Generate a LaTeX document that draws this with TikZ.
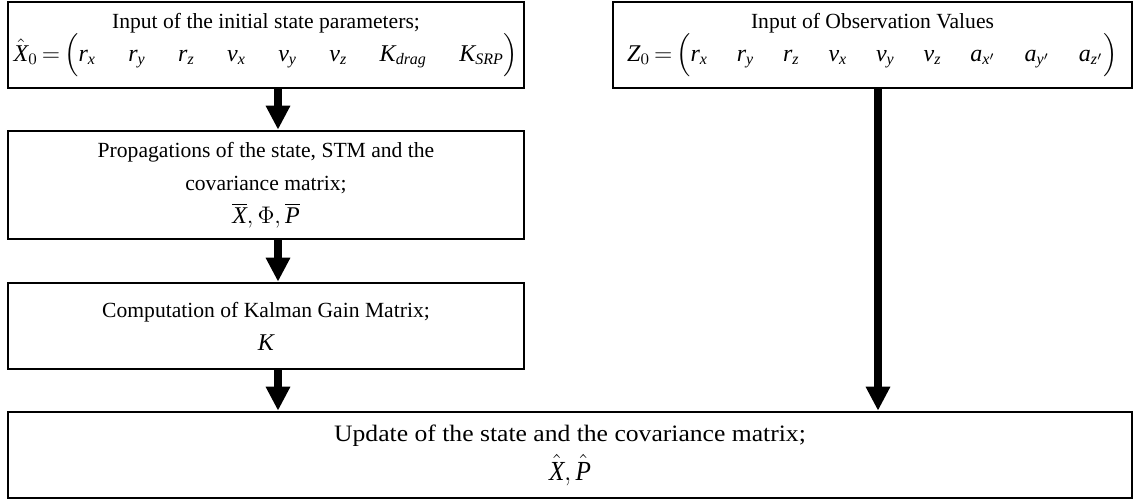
\documentclass[tikz,border=0pt]{standalone}
\usepackage{amsmath}
\usepackage{graphicx}
\usepackage{fontspec}
\setmainfont{Liberation Serif}
\usetikzlibrary{arrows.meta}
\newcommand\mi[1]{\mathit{#1}}
\newcommand\gap{\hspace{1.35em}}
\newcommand\zgap{\hspace{1.2em}}
\newcommand\mfont{\fontsize{12}{16.5}\selectfont}
\begin{document}
\begin{tikzpicture}[x=0.5pt,y=-0.5pt,
  box/.style={draw=black, line width=1.3pt, inner sep=0pt, align=center,
    font=\fontsize{10.8}{16.5}\selectfont},
  fat/.style={line width=4pt, -{Triangle[width=11.5pt,length=12pt]}}]
\useasboundingbox (0,0) rectangle (1135,502);
\node[box, minimum width=258pt, minimum height=43pt] (b1) at (266,45)
  {Input of the initial state parameters;\\
   {\mfont$\hat{\mi{X}}_0 \mskip-2mu=\mskip-2mu \Bigl(\mi{r}_{\mi{x}}\gap \mi{r}_{\mi{y}}\gap \mi{r}_{\mi{z}}\gap \mi{v}_{\mi{x}}\gap \mi{v}_{\mi{y}}\gap \mi{v}_{\mi{z}}\gap \mi{K}_{\mi{drag}}\gap \mi{K}_{\mi{SRP}}\Bigr)$}};
\node[box, minimum width=259.5pt, minimum height=43pt] (b2) at (872.5,45)
  {Input of Observation Values\\
   {\mfont$\mi{Z}_0 \mskip-2mu=\mskip-2mu \Bigl(\mi{r}_{\mi{x}}\zgap \mi{r}_{\mi{y}}\zgap \mi{r}_{\mi{z}}\zgap \mi{v}_{\mi{x}}\zgap \mi{v}_{\mi{y}}\zgap \mi{v}_{\mi{z}}\zgap \mi{a}_{\mi{x}'}\zgap \mi{a}_{\mi{y}'}\zgap \mi{a}_{\mi{z}'}\Bigr)$}};
\node[box, minimum width=258pt, minimum height=54pt] (b3) at (266,185)
  {Propagations of the state, STM and the\\ covariance matrix;\\
   {\mfont$\overline{\mi{X}}, \Phi, \overline{\mi{P}}$}};
\node[box, minimum width=258pt, minimum height=43pt] (b4) at (266,326)
  {Computation of Kalman Gain Matrix;\\ {\mfont$\mi{K}$}};
\node[box, minimum width=562pt, minimum height=43pt] (b5) at (570,455)
  {\scalebox{1.22}[1.12]{\fontsize{10.5}{12}\selectfont Update of the state and the covariance matrix;}\\[3pt]
   \scalebox{1.05}[1.15]{\mfont$\hat{\mi{X}}, \hat{\mi{P}}$}};
\coordinate (ax) at (278,0);
\coordinate (bx) at (878,0);
\draw[fat] (b1.south -| ax) -- (b3.north -| ax);
\draw[fat] (b3.south -| ax) -- (b4.north -| ax);
\draw[fat] (b4.south -| ax) -- (b5.north -| ax);
\draw[fat] (b2.south -| bx) -- (b5.north -| bx);
\end{tikzpicture}
\end{document}
